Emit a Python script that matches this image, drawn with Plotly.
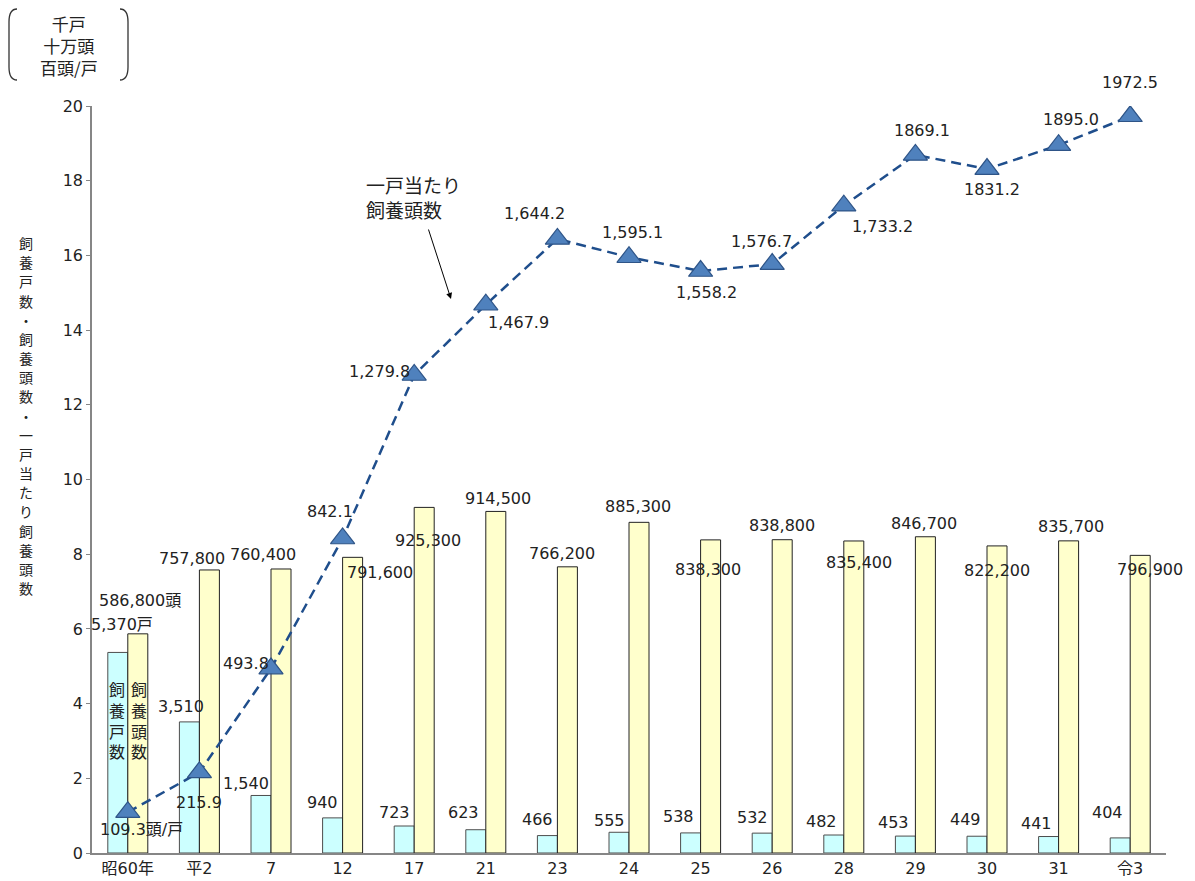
import plotly.graph_objects as go

# ---------------- data ----------------
categories = ["昭60年", "平2", "7", "12", "17", "21", "23", "24", "25", "26", "28", "29", "30", "31", "令3"]
households = [5370, 3510, 1540, 940, 723, 623, 466, 555, 538, 532, 482, 453, 449, 441, 404]          # 戸
heads = [586800, 757800, 760400, 791600, 925300, 914500, 766200, 885300, 838300, 838800,
         835400, 846700, 822200, 835700, 796900]                                                     # 頭
per_household = [109.3, 215.9, 493.8, 842.1, 1279.8, 1467.9, 1644.2, 1595.1, 1558.2, 1576.7,
                 1733.2, 1869.1, 1831.2, 1895.0, 1972.5]                                             # 頭/戸

household_labels = ["5,370戸", "3,510", "1,540", "940", "723", "623", "466", "555", "538", "532",
                    "482", "453", "449", "441", "404"]
head_labels = ["586,800頭", "757,800", "760,400", "791,600", "925,300", "914,500", "766,200", "885,300",
               "838,300", "838,800", "835,400", "846,700", "822,200", "835,700", "796,900"]
per_labels = ["109.3頭/戸", "215.9", "493.8", "842.1", "1,279.8", "1,467.9", "1,644.2", "1,595.1",
              "1,558.2", "1,576.7", "1,733.2", "1869.1", "1831.2", "1895.0", "1972.5"]
y_ticks = [0, 2, 4, 6, 8, 10, 12, 14, 16, 18, 20]

# scaled values (千戸, 十万頭, 百頭/戸)
hh_k = [v / 1000 for v in households]
heads_100k = [v / 100000 for v in heads]
per_100 = [v / 100 for v in per_household]

# ---------------- layout geometry / styles ----------------
PAGE_OFF = 8                      # default body margin of the page
W, H = 1195, 881                  # window size
X0, X1, Y0, Y1 = 92, 1166, 106, 853   # plot area in window pixels
PW, PH = X1 - X0, Y1 - Y0
CAT_PX = PW / len(categories)
BAR_PX = 20
FONT = "DejaVu Sans, Noto Sans CJK JP, sans-serif"
CJK = "Noto Sans CJK JP, sans-serif"
TXT = "#222222"
LBL = 16

def px(x):
    return (x - X0) / PW

def py(y):
    return (Y1 - y) / PH

# label offsets in pixels (dx right, dy down) relative to anchors
per_off = [(14, 17), (0, 30), (-25, -5), (-13, -27), (-35, -3), (33, 18), (-23, -25), (3, -25),
           (6, 21), (-11, -23), (39, 21), (7, -24), (5, 20), (12, -26), (0, -34)]
head_off = [(2, -33), (-17, -11), (-18, -14), (27, 15), (4, 33), (2, -13), (-5, -13), (-1, -16),
            (-3, 30), (0, -14), (5, 22), (-1, -13), (0, 25), (2, -14), (10, 14)]
house_off = [(4, -28), (-8, -15), (-15, -12), (-10, -15), (-10, -14), (-12, -17), (-10, -16), (-10, -12),
             (-12, -16), (-10, -16), (-12, -14), (-12, -14), (-12, -17), (-12, -13), (-13, -25)]

fig = go.Figure()
fig.add_trace(go.Bar(x=categories, y=hh_k, name="飼養戸数",
                     marker=dict(color="#CCFFFF", line=dict(color="#4D4D4D", width=1))))
fig.add_trace(go.Bar(x=categories, y=heads_100k, name="飼養頭数",
                     marker=dict(color="#FFFFCC", line=dict(color="#222222", width=1))))
fig.add_trace(go.Scatter(x=categories, y=per_100, name="一戸当たり飼養頭数", mode="lines+markers",
                         line=dict(color="#1F4E8C", width=2.5, dash="10px,6px"),
                         marker=dict(symbol="triangle-up", size=21, color="#4F81BD",
                                     line=dict(color="#2E5487", width=1.2))))

ann = []
for i, c in enumerate(categories):
    dx, dy = per_off[i]
    ann.append(dict(x=i, y=per_100[i], xref="x", yref="y", text=per_labels[i], showarrow=False,
                    xshift=dx, yshift=-dy, font=dict(size=LBL, color=TXT, family=FONT)))
    dx, dy = head_off[i]
    ann.append(dict(x=i, y=heads_100k[i], xref="x", yref="y", text=head_labels[i], showarrow=False,
                    xshift=BAR_PX / 2 + dx, yshift=-dy, font=dict(size=LBL, color=TXT, family=FONT)))
    dx, dy = house_off[i]
    ann.append(dict(x=i, y=hh_k[i], xref="x", yref="y", text=household_labels[i], showarrow=False,
                    xshift=-BAR_PX / 2 + dx, yshift=-dy, font=dict(size=LBL, color=TXT, family=FONT)))

# vertical labels inside the first bars
for shift, txt in [(-BAR_PX / 2 - 1, "飼<br>養<br>戸<br>数"), (BAR_PX / 2 + 1, "飼<br>養<br>頭<br>数")]:
    ann.append(dict(x=0, y=py(720), xref="x", yref="paper", xanchor="center", yanchor="middle",
                    text=txt, showarrow=False, xshift=shift, borderpad=0,
                    font=dict(size=16, color=TXT, family=CJK)))

# callout for the line
ann.append(dict(x=px(364), y=py(197), xref="paper", yref="paper", xanchor="left", yanchor="middle",
                align="left", text="一戸当たり<br>飼養頭数", showarrow=False,
                font=dict(size=19, color=TXT, family=CJK)))
ann.append(dict(x=px(451), y=py(299), xref="paper", yref="paper", text="", showarrow=True,
                ax=-23, ay=-71, arrowhead=2, arrowsize=1.2, arrowwidth=1, arrowcolor="#000000"))

# unit box
ann.append(dict(x=px(69), y=py(46), xref="paper", yref="paper", xanchor="center", yanchor="middle",
                text="千戸<br>十万頭<br>百頭/戸", showarrow=False,
                font=dict(size=17, color=TXT, family=CJK)))

# vertical axis title, one character per line
title_chars = "飼養戸数・飼養頭数・一戸当たり飼養頭数"
t0, t1 = 243, 588
for k, ch in enumerate(title_chars):
    yy = t0 + (t1 - t0) * k / (len(title_chars) - 1)
    ann.append(dict(x=px(26), y=py(yy), xref="paper", yref="paper", xanchor="center", yanchor="middle",
                    text=ch, showarrow=False, borderpad=0,
                    font=dict(size=14, color=TXT, family=CJK)))

shapes = []
for (a, b) in [(17, 9), (120, 128)]:
    shapes.append(dict(type="path", xref="paper", yref="paper",
                       path=(f"M {px(a)},{py(9)} Q {px(b)},{py(9)} {px(b)},{py(22)} "
                             f"L {px(b)},{py(67)} Q {px(b)},{py(80)} {px(a)},{py(80)}"),
                       line=dict(color="#333333", width=1.3)))

fig.update_layout(
    width=W - PAGE_OFF, height=H - PAGE_OFF,
    margin=dict(l=X0 - PAGE_OFF, r=W - X1, t=Y0 - PAGE_OFF, b=H - Y1, autoexpand=False),
    paper_bgcolor="white", plot_bgcolor="white", showlegend=False,
    barmode="group", bargap=1 - 2 * BAR_PX / CAT_PX, bargroupgap=0,
    font=dict(family=FONT, color=TXT),
    annotations=ann, shapes=shapes,
    xaxis=dict(type="category", range=[-0.5, len(categories) - 0.5], automargin=False,
               showline=True, linecolor="#868686", linewidth=1.5, ticks="", showgrid=False,
               tickangle=0, tickfont=dict(size=16, color=TXT, family=FONT)),
    yaxis=dict(range=[0, 20], tickvals=y_ticks, showline=True, linecolor="#868686", linewidth=1.5,
               automargin=False,
               ticks="outside", ticklen=4, tickcolor="#868686", showgrid=False, zeroline=False,
               tickfont=dict(size=16, color=TXT, family=FONT)),
)

fig.write_html("out.html")
